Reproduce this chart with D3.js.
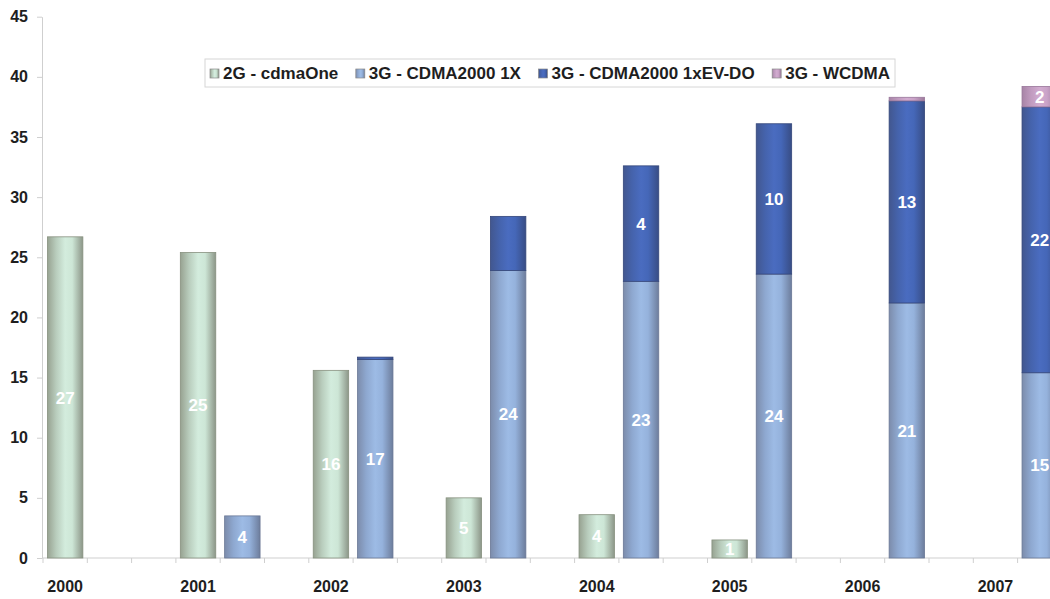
<!DOCTYPE html>
<html>
<head>
<meta charset="utf-8">
<script src="https://cdn.jsdelivr.net/npm/d3@7"></script>
<style>
  html, body { margin: 0; padding: 0; background: #ffffff; }
  svg { display: block; font-family: "Liberation Sans", Arial, sans-serif; }
</style>
</head>
<body>
<svg id="chart" width="1050" height="599"></svg>
<script>
// ---- data ----
const years = ["2000", "2001", "2002", "2003", "2004", "2005", "2006", "2007"];
const seriesNames = ["2G - cdmaOne", "3G - CDMA2000 1X", "3G - CDMA2000 1xEV-DO", "3G - WCDMA"];
const cdmaOne = [26.7, 25.4, 15.6, 5.0, 3.6, 1.5, 0, 0];
const cdma1x  = [0, 3.5, 16.5, 23.9, 23.0, 23.6, 21.2, 15.4];
const evdo    = [0, 0, 0.2, 4.5, 9.6, 12.5, 16.8, 22.1];
const wcdma   = [0, 0, 0, 0, 0, 0, 0.3, 1.7];
const cdmaOneLabels = ["27", "25", "16", "5", "4", "1", "", ""];
const cdma1xLabels  = ["", "4", "17", "24", "23", "24", "21", "15"];
const evdoLabels    = ["", "", "", "", "4", "10", "13", "22"];
const wcdmaLabels   = ["", "", "", "", "", "", "", "2"];
const yTicks = [0, 5, 10, 15, 20, 25, 30, 35, 40, 45];

(function () {
// ---- setup ----
const W = 1050, H = 599;
const svg = d3.select("#chart");
const mLeft = 43, mBottom = 558, mTop = 16.7;
const yearStep = 132.9;

const x0 = d3.scaleBand().domain(years).range([mLeft, mLeft + yearStep * years.length]).padding(0);
const x1 = d3.scaleBand().domain(["2G", "3G", "gap"]).range([0, x0.bandwidth()])
  .paddingInner(0.2).paddingOuter(0.1);
const y = d3.scaleLinear().domain([0, 45]).range([mBottom, mTop]);

// gradients
const defs = svg.append("defs");
const palettes = [
  { id: "g-cdmaone", stops: ["#97a291", "#b9cdbd", "#d3ecdd", "#cde6d6", "#8c9688"], stroke: "#87917f" },
  { id: "g-1x",      stops: ["#7c8cab", "#8ea8d0", "#9dbbe5", "#95b2dc", "#6d7d9c"], stroke: "#6a7896" },
  { id: "g-evdo",    stops: ["#42578f", "#4563ac", "#4a6cc0", "#4567b8", "#384d85"], stroke: "#34467a" },
  { id: "g-wcdma",   stops: ["#a784a6", "#c09bbf", "#d2acd0", "#caa3c8", "#9c7a9b"], stroke: "#98769a" }
];
palettes.forEach(p => {
  const g = defs.append("linearGradient").attr("id", p.id)
    .attr("x1", "0%").attr("x2", "100%").attr("y1", "0%").attr("y2", "0%");
  const offs = [0, 0.25, 0.5, 0.7, 1];
  p.stops.forEach((c, i) => g.append("stop").attr("offset", offs[i]).attr("stop-color", c));
});

svg.append("rect").attr("width", W).attr("height", H).attr("fill", "#ffffff");

// ---- axes ----
const axisColor = "#cfcfcf";
const yAxis = svg.append("g")
  .attr("transform", `translate(${mLeft - 1},0)`)
  .call(d3.axisLeft(y).tickValues(yTicks).tickSize(5).tickPadding(9).tickSizeOuter(0));
yAxis.select(".domain").attr("stroke", axisColor);
yAxis.selectAll(".tick line").attr("stroke", axisColor);
yAxis.selectAll(".tick text")
  .attr("font-size", 16).attr("font-weight", "bold").attr("fill", "#1e1e1e")
  .attr("font-family", "Liberation Sans, Arial, sans-serif");

// x baseline and slot ticks
svg.append("line")
  .attr("x1", mLeft - 1).attr("x2", W).attr("y1", y(0)).attr("y2", y(0))
  .attr("stroke", axisColor);
const slotTicks = [];
years.forEach(yr => {
  for (let k = 0; k < 3; k++) slotTicks.push(x0(yr) + k * x1.step());
});
svg.append("g").selectAll("line").data(slotTicks).join("line")
  .attr("x1", d => d).attr("x2", d => d)
  .attr("y1", y(0)).attr("y2", y(0) + 5)
  .attr("stroke", axisColor);

svg.append("g").selectAll("text").data(years).join("text")
  .attr("x", d => x0(d) + x1("2G") + x1.bandwidth() / 2)
  .attr("y", 592)
  .attr("text-anchor", "middle")
  .attr("font-size", 16).attr("font-weight", "bold").attr("fill", "#1e1e1e")
  .text(d => d);

// ---- bars ----
const barsG = svg.append("g");
const labelsG = svg.append("g");

function drawSegment(slot, idx, lo, hi, pal, label) {
  if (hi - lo <= 0) return;
  const yr = years[idx];
  const bx = x0(yr) + x1(slot);
  barsG.append("rect")
    .attr("x", bx).attr("width", x1.bandwidth())
    .attr("y", y(hi)).attr("height", y(lo) - y(hi))
    .attr("fill", `url(#${pal.id})`)
    .attr("stroke", pal.stroke).attr("stroke-width", 0.8);
  if (label) {
    labelsG.append("text")
      .attr("x", bx + x1.bandwidth() / 2)
      .attr("y", y((lo + hi) / 2))
      .attr("dy", "0.36em")
      .attr("text-anchor", "middle")
      .attr("font-size", 17).attr("font-weight", "bold").attr("fill", "#ffffff")
      .text(label);
  }
}

years.forEach((yr, i) => {
  drawSegment("2G", i, 0, cdmaOne[i], palettes[0], cdmaOneLabels[i]);
  const a = cdma1x[i], b = a + evdo[i], c = b + wcdma[i];
  drawSegment("3G", i, 0, a, palettes[1], cdma1xLabels[i]);
  drawSegment("3G", i, a, b, palettes[2], evdoLabels[i]);
  drawSegment("3G", i, b, c, palettes[3], wcdmaLabels[i]);
});

// ---- legend ----
const lgX = 205, lgY = 59, lgW = 690, lgH = 28;
const lg = svg.append("g");
lg.append("rect").attr("x", lgX).attr("y", lgY).attr("width", lgW).attr("height", lgH)
  .attr("fill", "#ffffff").attr("stroke", "#d6d6d6");
const sw = 9, swGap = 4;
const items = lg.selectAll("g.item").data(seriesNames).join("g").attr("class", "item");
items.append("rect")
  .attr("width", sw).attr("height", sw).attr("y", -sw / 2)
  .attr("fill", (d, i) => `url(#${palettes[i].id})`)
  .attr("stroke", "#8a8a8a").attr("stroke-width", 0.7);
items.append("text")
  .attr("x", sw + swGap).attr("dy", "0.35em")
  .attr("font-size", 17).attr("font-weight", "bold").attr("fill", "#1e1e1e")
  .text(d => d);
const widths = [];
items.each(function () { widths.push(sw + swGap + d3.select(this).select("text").node().getComputedTextLength()); });
const innerPad = 5;
const spacing = (lgW - 2 * innerPad - d3.sum(widths)) / (widths.length - 1);
let cx = lgX + innerPad;
items.attr("transform", (d, i) => {
  const t = `translate(${cx},${lgY + lgH / 2 + 0.5})`;
  cx += widths[i] + spacing;
  return t;
});
})();
</script>
</body>
</html>
